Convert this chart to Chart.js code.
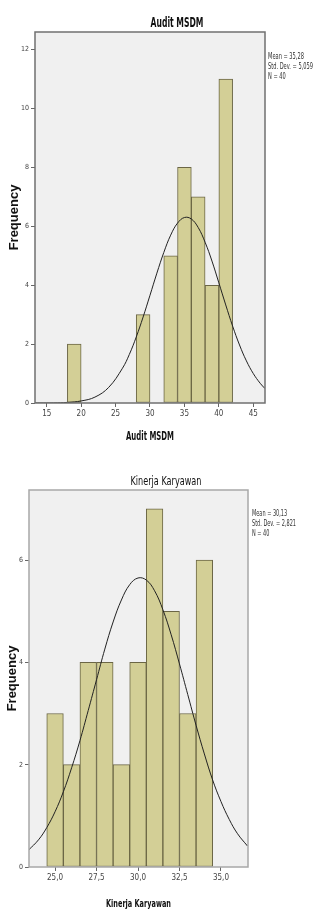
<!DOCTYPE html>
<html>
<head>
<meta charset="utf-8">
<script src="https://cdn.jsdelivr.net/npm/chart.js@4"></script>
<style>
  body { margin: 0; background: #fff; }
  .box { position: absolute; left: 0; }
</style>
</head>
<body>
<div class="box" style="top:0"><canvas id="audit" width="315" height="450"></canvas></div>
<div class="box" style="top:455px"><canvas id="kinerja" width="315" height="454"></canvas></div>
<script>
// Audit MSDM histogram (bin centers, counts)
const auditBins = [19, 29, 33, 35, 37, 39, 41];
const auditCounts = [2, 3, 5, 8, 7, 4, 11];
const auditCurveX = [13.3, 14, 16, 18, 20, 22, 24, 26, 27, 28, 29, 30, 31, 32, 33, 34, 35, 36, 37, 38, 39, 40, 41, 42, 43, 44, 45, 46, 46.7];
const auditCurveY = [0.0004, 0.001, 0.004, 0.02, 0.07, 0.2, 0.53, 1.18, 1.65, 2.24, 2.92, 3.66, 4.41, 5.11, 5.7, 6.11, 6.3, 6.25, 5.96, 5.46, 4.82, 4.08, 3.33, 2.61, 1.97, 1.43, 1.0, 0.67, 0.49];
const auditXTicks = [15, 20, 25, 30, 35, 40, 45];
const auditYTicks = [0, 2, 4, 6, 8, 10, 12];
const auditStats = ['Mean = 35,28', 'Std. Dev. = 5,059', 'N = 40'];

// Kinerja Karyawan histogram
const kinerjaBins = [25, 26, 27, 28, 29, 30, 31, 32, 33, 34];
const kinerjaCounts = [3, 2, 4, 4, 2, 4, 7, 5, 3, 6];
const kinerjaCurveX = [23.4, 24, 24.5, 25, 25.5, 26, 26.5, 27, 27.5, 28, 28.5, 29, 29.5, 30, 30.5, 31, 31.5, 32, 32.5, 33, 33.5, 34, 34.5, 35, 35.5, 36, 36.6];
const kinerjaCurveY = [0.33, 0.53, 0.77, 1.08, 1.47, 1.94, 2.47, 3.06, 3.66, 4.26, 4.79, 5.22, 5.52, 5.65, 5.61, 5.4, 5.03, 4.54, 3.97, 3.37, 2.77, 2.21, 1.7, 1.28, 0.93, 0.65, 0.41];
const kinerjaXTicks = [25, 27.5, 30, 32.5, 35];
const kinerjaXLabels = ['25,0', '27,5', '30,0', '32,5', '35,0'];
const kinerjaYTicks = [0, 2, 4, 6];
const kinerjaStats = ['Mean = 30,13', 'Std. Dev. = 2,821', 'N = 40'];

const narrow = "'DejaVu Sans Condensed', 'Liberation Sans Narrow', Arial, sans-serif";

// draw text squeezed horizontally to a given width (SPSS uses a narrow face)
function squeezed(ctx, text, x, y, width, align) {
  const w = ctx.measureText(text).width;
  const k = Math.min(1, width / w);
  ctx.save();
  ctx.translate(x, y);
  ctx.scale(k, 1);
  ctx.textAlign = align;
  ctx.fillText(text, 0, 0);
  ctx.restore();
}

// plot background, frame and the extra SPSS texts
const spssPlugin = {
  id: 'spss',
  beforeDraw(chart, args, opts) {
    const a = chart.chartArea, ctx = chart.ctx;
    ctx.save();
    ctx.fillStyle = '#f0f0f0';
    ctx.fillRect(a.left, a.top, a.right - a.left, a.bottom - a.top);
    ctx.restore();
  },
  afterDraw(chart, args, opts) {
    const a = chart.chartArea, ctx = chart.ctx;
    ctx.save();
    ctx.strokeStyle = opts.frame;
    ctx.lineWidth = 1.5;
    ctx.strokeRect(a.left, a.top, a.right - a.left, a.bottom - a.top);
    ctx.fillStyle = '#111';
    ctx.textBaseline = 'middle';
    // chart title
    ctx.font = opts.titleFont;
    squeezed(ctx, opts.title, opts.titleX, opts.titleY, opts.titleW, 'center');
    // x axis title, centred under the plot
    ctx.font = opts.xTitleFont;
    squeezed(ctx, opts.xTitle, (a.left + a.right) / 2, opts.xTitleY, opts.xTitleW, 'center');
    // stats block
    ctx.font = '9px ' + narrow;
    ctx.fillStyle = '#333';
    const longest = Math.max(...opts.stats.map(s => ctx.measureText(s).width));
    const k = opts.statsW / longest;
    opts.stats.forEach((s, i) => {
      ctx.save();
      ctx.translate(opts.statsX, opts.statsY + i * 10);
      ctx.scale(k, 1);
      ctx.textAlign = 'left';
      ctx.fillText(s, 0, 0);
      ctx.restore();
    });
    ctx.restore();
  }
};

function makeHistogram(id, cfg) {
  const ctx = document.getElementById(id).getContext('2d');
  return new Chart(ctx, {
    type: 'bar',
    data: {
      datasets: [
        {
          type: 'line',
          data: cfg.curveX.map((x, i) => ({ x: x, y: cfg.curveY[i] })),
          borderColor: '#222',
          borderWidth: 1,
          pointRadius: 0,
          tension: 0.4,
          order: 0,
        },
        {
          type: 'bar',
          data: cfg.bins.map((x, i) => ({ x: x, y: cfg.counts[i] })),
          backgroundColor: '#d3cf96',
          borderColor: '#6b6645',
          borderWidth: 1,
          borderSkipped: false,
          categoryPercentage: 1,
          barPercentage: 1,
          order: 1,
        },
      ],
    },
    options: {
      responsive: false,
      animation: false,
      layout: { padding: { top: cfg.top, right: cfg.right, left: 0, bottom: 0 } },
      plugins: {
        legend: { display: false },
        tooltip: { enabled: false },
        spss: cfg.text,
      },
      scales: {
        x: {
          type: 'linear',
          min: cfg.xMin,
          max: cfg.xMax,
          offset: false,
          grid: { drawOnChartArea: false, drawTicks: true, tickLength: 4, color: '#666', offset: false },
          border: { display: false },
          afterBuildTicks: s => { s.ticks = cfg.xTicks.map(v => ({ value: v })); },
          afterFit: s => { s.height = cfg.xHeight; },
          ticks: {
            maxRotation: 0,
            autoSkip: false,
            padding: 2,
            color: '#444',
            font: { size: 8, family: narrow },
            callback: (v, i) => cfg.xLabels ? cfg.xLabels[i] : String(v),
          },
        },
        y: {
          min: 0,
          max: cfg.yMax,
          grid: { drawOnChartArea: false, drawTicks: true, tickLength: 4, color: '#666' },
          border: { display: false },
          afterBuildTicks: s => { s.ticks = cfg.yTicks.map(v => ({ value: v })); },
          afterFit: s => { s.width = cfg.left; },
          ticks: { padding: 2, color: '#444', font: { size: 7, family: narrow } },
          title: {
            display: true,
            text: 'Frequency',
            color: '#111',
            font: { size: 13, weight: 'bold', family: 'Arial, Liberation Sans, sans-serif', lineHeight: 1 },
            padding: { top: cfg.yTitlePad, bottom: 0 },
          },
        },
      },
    },
    plugins: [spssPlugin],
  });
}

makeHistogram('audit', {
  bins: auditBins, counts: auditCounts, curveX: auditCurveX, curveY: auditCurveY,
  xTicks: auditXTicks, yTicks: auditYTicks, xMin: 13.3, xMax: 46.7, yMax: 12.6,
  top: 32, right: 50, left: 35, xHeight: 47, yTitlePad: 7.5,
  text: { title: 'Audit MSDM', titleX: 177, titleY: 23, titleW: 53, titleFont: 'bold 14px ' + narrow,
          xTitle: 'Audit MSDM', xTitleY: 437, xTitleW: 48, xTitleFont: 'bold 13px ' + narrow,
          stats: auditStats, statsX: 268, statsY: 57, statsW: 45, frame: '#707070' },
});

makeHistogram('kinerja', {
  bins: kinerjaBins, counts: kinerjaCounts, curveX: kinerjaCurveX, curveY: kinerjaCurveY,
  xTicks: kinerjaXTicks, xLabels: kinerjaXLabels, yTicks: kinerjaYTicks, xMin: 23.43, xMax: 36.63, yMax: 7.37,
  top: 35, right: 67, left: 29, xHeight: 42, yTitlePad: 5.5,
  text: { title: 'Kinerja Karyawan', titleX: 166, titleY: 27, titleW: 71, titleFont: '13px ' + narrow,
          xTitle: 'Kinerja Karyawan', xTitleY: 449, xTitleW: 65, xTitleFont: 'bold 11px ' + narrow,
          stats: kinerjaStats, statsX: 252, statsY: 59, statsW: 44, frame: '#a8a8a8' },
});
</script>
</body>
</html>
